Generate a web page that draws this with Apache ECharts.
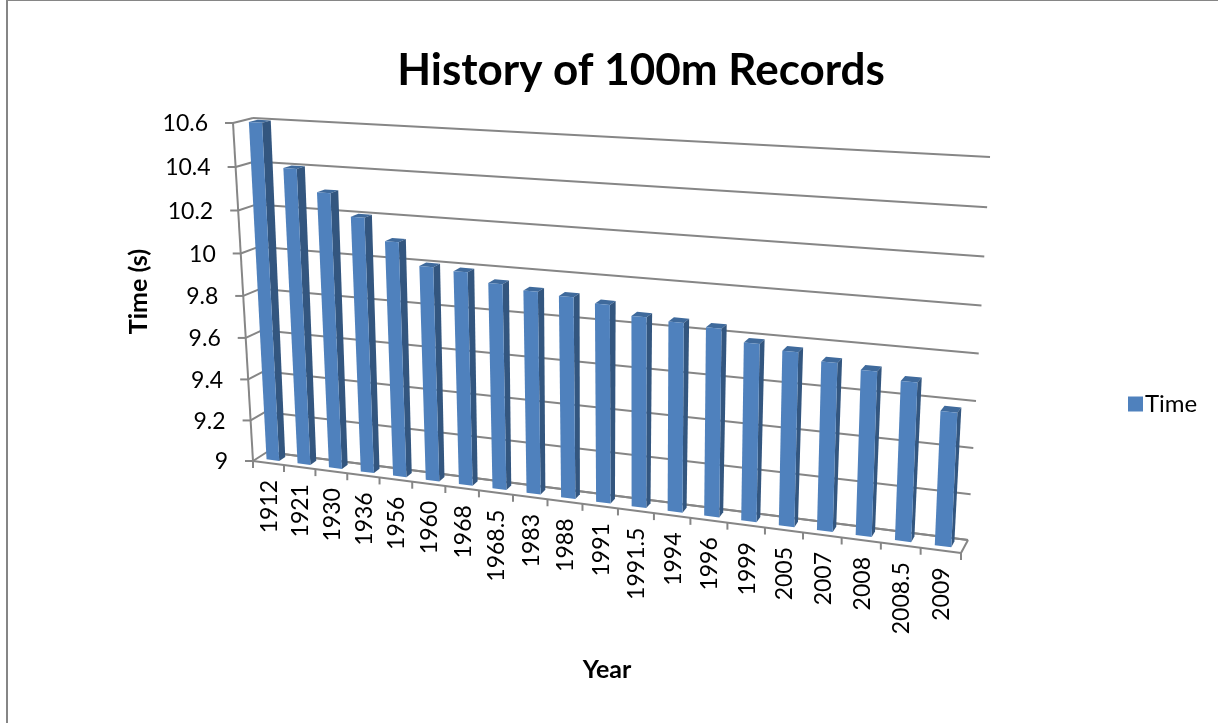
<!DOCTYPE html>
<html>
<head>
<meta charset="utf-8">
<style>html,body{margin:0;padding:0;background:#fff}#chart{width:1218px;height:723px}</style>
<script src="https://cdn.jsdelivr.net/npm/echarts@6/dist/echarts.min.js"></script>
</head>
<body>
<div id="chart"></div>
<script>
// 100 m world record progression
const years = ['1912','1921','1930','1936','1956','1960','1968','1968.5','1983','1988','1991','1991.5','1994','1996','1999','2005','2007','2008','2008.5','2009'];
const times = [10.6,10.4,10.3,10.2,10.1,10.0,9.99,9.95,9.93,9.92,9.90,9.86,9.85,9.84,9.79,9.77,9.74,9.72,9.69,9.58];
const timeTicks = [9,9.2,9.4,9.6,9.8,10,10.2,10.4,10.6];

// Plot box of the 3D view: value-axis plane nearest the viewer and the back wall.
// Corners are ordered bottom-left, bottom-right, top-right, top-left.
const frontPlane = [[253,461],[961,553],[977,167],[233,123]];
const backPlane  = [[267,452],[968,540],[990,157],[253,118]];
const grid = {left:253, top:122, width:708, height:339};
const depth = {near:0.32, far:0.76};
const barShare = 0.41;

const colors = {front:'#4F81BD', side:'#33567F', top:'#3F6A9C', line:'#868686', text:'#000'};
const font = 'Lato';

// Projective map of the unit square onto a quadrilateral.
function homography(q){
  const [[x0,y0],[x1,y1],[x2,y2],[x3,y3]] = q;
  const dx1=x1-x2, dx2=x3-x2, sx=x0-x1+x2-x3;
  const dy1=y1-y2, dy2=y3-y2, sy=y0-y1+y2-y3;
  const den=dx1*dy2-dx2*dy1;
  const g=(sx*dy2-dx2*sy)/den, h=(dx1*sy-sx*dy1)/den;
  const a=x1-x0+g*x1, b=x3-x0+h*x3, d=y1-y0+g*y1, e=y3-y0+h*y3;
  return (u,v)=>{const w=g*u+h*v+1;return [(a*u+b*v+x0)/w,(d*u+e*v+y0)/w];};
}
const mapFront = homography(frontPlane), mapBack = homography(backPlane);

// u runs along the category axis, v up the value axis, d from near plane to back wall.
function project(u,v,d){
  const f=mapFront(u,v), b=mapBack(u,v);
  return [f[0]+(b[0]-f[0])*d, f[1]+(b[1]-f[1])*d];
}
// Axis scale position in the hidden cartesian grid -> unit coordinates.
function toUnit(api,cat,val){
  const p=api.coord([cat,val]);
  return [(p[0]-grid.left)/grid.width, (grid.top+grid.height-p[1])/grid.height];
}
const seg=(a,b,w)=>({type:'line',shape:{x1:a[0],y1:a[1],x2:b[0],y2:b[1]},style:{stroke:colors.line,lineWidth:w||2},silent:true});
const poly=(pts,fill)=>({type:'polygon',shape:{points:pts},style:{fill:fill},silent:true});

// Gridlines on both walls, ticks and labels of the value axis
function renderValueAxis(params,api){
  const val=api.value(0);
  const v=toUnit(api,0,val)[1];
  const corner=project(0,v,0);
  return {type:'group',children:[
    seg(project(0,v,1),project(1,v,1)),
    seg(corner,project(0,v,1)),
    seg([corner[0]-8,corner[1]],corner),
    {type:'text',x:corner[0]-25,y:corner[1]+1,style:{text:String(val),x:0,y:0,align:'right',verticalAlign:'middle',font:'23px '+font,fill:colors.text}}
  ]};
}
// Edges of the floor and the left wall
function renderFrame(params,api){
  return {type:'group',children:[
    seg(project(0,0,0),project(0,1,0)),
    seg(project(0,0,0),project(1,0,0)),
    seg(project(0,0,1),project(1,0,1)),
    seg(project(1,0,0),project(1,0,1))
  ]};
}
// Tick marks and rotated year labels under the floor
function renderCategoryAxis(params,api){
  const i=api.value(0);
  const u=toUnit(api,i,9)[0];
  const band=api.size([1,0])[0]/grid.width;
  const left=project(u-band/2,0,0), mid=project(u,0,0);
  const children=[seg(left,[left[0],left[1]+7])];
  if(i===years.length-1){
    const right=project(u+band/2,0,0);
    children.push(seg(right,[right[0],right[1]+7]));
  }
  children.push({type:'text',x:mid[0]+1,y:mid[1]+17,rotation:Math.PI/2,style:{text:years[i],x:0,y:0,align:'right',verticalAlign:'middle',font:'23px '+font,fill:colors.text}});
  return {type:'group',children};
}
// One 3D column: top, side and front faces
function renderBar(params,api){
  const i=api.value(0), val=api.value(1);
  const [u,v]=toUnit(api,i,val);
  const half=api.size([1,0])[0]/grid.width*barShare/2;
  const u0=u-half,u1=u+half,n=depth.near,f=depth.far;
  return {type:'group',children:[
    poly([project(u0,v,n),project(u1,v,n),project(u1,v,f),project(u0,v,f)],colors.top),
    poly([project(u1,0,n),project(u1,0,f),project(u1,v,f),project(u1,v,n)],colors.side),
    poly([project(u0,0,n),project(u1,0,n),project(u1,v,n),project(u0,v,n)],colors.front)
  ]};
}

const base={type:'custom',clip:false,silent:true,animation:false};
const option={
  backgroundColor:'#fff',
  animation:false,
  title:{text:'History of 100m Records',left:636,textAlign:'center',top:44,textStyle:{fontFamily:font,fontWeight:'bold',fontSize:44,color:colors.text}},
  legend:{data:['Time'],left:1123,top:387,icon:'rect',itemWidth:15,itemHeight:15,selectedMode:false,textStyle:{fontFamily:font,fontSize:24,color:colors.text,padding:[0,0,0,-3]}},
  grid:{left:grid.left,top:grid.top,width:grid.width,height:grid.height},
  xAxis:{type:'category',data:years,name:'Year',nameLocation:'middle',nameGap:196,nameTextStyle:{fontFamily:font,fontWeight:'bold',fontSize:25,color:colors.text},axisLine:{show:false},axisTick:{show:false},axisLabel:{show:false},splitLine:{show:false}},
  yAxis:{type:'value',min:9,max:10.6,interval:0.2,name:'Time (s)',nameLocation:'middle',nameGap:102,nameTextStyle:{fontFamily:font,fontWeight:'bold',fontSize:25,color:colors.text},axisLine:{show:false},axisTick:{show:false},axisLabel:{show:false},splitLine:{show:false}},
  graphic:[
    {type:'rect',shape:{x:6,y:0,width:2,height:723},style:{fill:colors.line},silent:true},
    {type:'rect',shape:{x:6,y:0,width:1212,height:1},style:{fill:colors.line},silent:true}
  ],
  series:[
    {...base,name:'axisValues',encode:{x:-1,y:0},data:timeTicks.map(t=>[t]),renderItem:renderValueAxis,z:1},
    {...base,name:'frame',data:[[0]],renderItem:renderFrame,z:2},
    {...base,name:'axisYears',data:years.map((y,i)=>[i]),renderItem:renderCategoryAxis,z:3},
    {...base,name:'Time',itemStyle:{color:colors.front},encode:{x:0,y:1},data:times.map((t,i)=>[i,t]),renderItem:renderBar,z:4}
  ]
};
echarts.init(document.getElementById('chart')).setOption(option);
</script>
</body>
</html>
